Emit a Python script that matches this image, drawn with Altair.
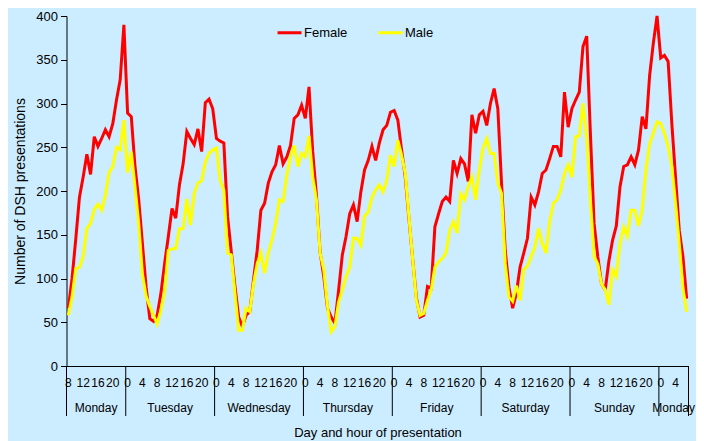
import altair as alt
import pandas as pd

FONT = "Liberation Sans"

# hourly categories: Monday 08:00 (hour 8) ... following Monday 07:00 (hour 175)
hours = list(range(8, 176))

female = [
    66, 100, 145, 193, 216, 242, 219, 262, 251, 260, 270, 262, 277, 304, 327, 390,
    289, 285, 228, 190, 140, 90, 54, 51, 58, 83, 117, 148, 180, 169, 207, 231, 268, 260, 253, 271, 245, 301, 305, 294,
    260, 257, 255, 171, 131, 91, 56, 45, 58, 62, 98, 132, 178, 186, 209, 222, 230, 252, 231, 239, 252, 283, 287, 298,
    283, 319, 245, 195, 130, 102, 66, 56, 49, 87, 127, 148, 174, 184, 165, 199, 224, 235, 251, 235, 255, 270, 275, 290,
    292, 281, 247, 216, 168, 122, 78, 56, 58, 91, 89, 159, 174, 188, 193, 188, 235, 220, 237, 231, 211, 287, 266, 287,
    291, 275, 300, 317, 294, 209, 132, 90, 66, 83, 113, 129, 146, 193, 184, 199, 220, 224, 237, 251, 251, 239, 313, 273,
    294, 304, 313, 365, 377, 266, 163, 125, 94, 87, 120, 144, 160, 205, 228, 230, 239, 230, 247, 285, 271, 332, 369, 400,
    352, 355, 348, 277, 216, 155, 125, 77,
]

male = [
    58, 79, 111, 113, 125, 157, 163, 179, 185, 178, 195, 221, 228, 250, 247, 281,
    221, 245, 205, 163, 105, 80, 68, 58, 48, 64, 85, 132, 134, 134, 157, 157, 191, 161, 197, 209, 212, 233, 243, 247,
    249, 212, 201, 129, 127, 83, 41, 41, 66, 62, 94, 117, 129, 106, 129, 144, 163, 190, 188, 218, 239, 252, 228, 243,
    239, 263, 216, 190, 129, 110, 68, 39, 45, 73, 87, 102, 113, 146, 146, 138, 171, 176, 193, 201, 207, 199, 212, 241,
    228, 258, 241, 220, 170, 122, 75, 58, 60, 75, 87, 113, 119, 123, 129, 155, 165, 152, 197, 190, 205, 216, 190, 224,
    249, 260, 243, 243, 209, 197, 117, 79, 74, 92, 75, 110, 114, 125, 136, 157, 140, 129, 165, 186, 190, 201, 220, 230,
    216, 262, 263, 300, 262, 190, 125, 117, 94, 87, 70, 110, 102, 140, 159, 148, 178, 178, 160, 178, 224, 254, 266, 279,
    277, 266, 251, 228, 186, 140, 89, 62,
]

series_names = ["Female", "Male"]
series_colors = ["#FF0000", "#FFFF00"]

day_names = ["Monday", "Tuesday", "Wednesday", "Thursday", "Friday", "Saturday", "Sunday", "Monday"]
day_starts = [8, 24, 48, 72, 96, 120, 144, 168]
day_ends = [24, 48, 72, 96, 120, 144, 168, 176]

label_hours = list(range(8, 176, 4))
y_ticks = list(range(0, 401, 50))

# ---- tables built from the arrays ----
n = len(hours)
df = pd.DataFrame({
    "hour": hours * 2,
    "count": female + male,
    "sex": [series_names[0]] * n + [series_names[1]] * n,
})
df["pos"] = df["hour"] + 0.5  # category centre

days_df = pd.DataFrame({
    "day": day_names,
    "pos": [(a + b) / 2 for a, b in zip(day_starts, day_ends)],
    "k": list(range(len(day_names))),
})
bounds_df = pd.DataFrame({"pos": sorted(set(day_starts + day_ends))})
hour_lab_df = pd.DataFrame({
    "pos": [h + 0.5 for h in label_hours],
    "lab": [str(h % 24) for h in label_hours],
})

PLOT_W, PLOT_H = 622, 350

xscale = alt.Scale(domain=[hours[0], hours[-1] + 1], nice=False, zero=False)
yscale = alt.Scale(domain=[0, 400], nice=False)

x_axis = alt.Axis(
    values=[h + 0.5 for h in label_hours],
    labels=False, ticks=False, grid=False, domain=True, domainColor="#000000",
    title="Day and hour of presentation", titleFont=FONT, titleFontSize=13,
    titleFontWeight="normal", titleColor="#000000", titleY=60,
)
y_axis = alt.Axis(
    values=y_ticks, grid=False, domain=True, domainColor="#000000",
    ticks=True, tickSize=6, tickColor="#000000",
    labelFont=FONT, labelFontSize=13, labelColor="#000000", labelPadding=3,
    title="Number of DSH presentations", titleFont=FONT, titleFontSize=14,
    titleFontWeight="normal", titleColor="#000000", titleX=-39, titleY=PLOT_H / 2,
)

legend = alt.Legend(
    title=None, orient="none", legendX=209.5, legendY=3, direction="horizontal",
    symbolType="stroke", symbolSize=576, symbolStrokeWidth=3,
    labelFont=FONT, labelFontSize=13, labelColor="#000000", labelOffset=1,
    columnPadding=24, padding=0,
)

lines = alt.Chart(df).mark_line(strokeWidth=3).encode(
    x=alt.X("pos:Q", scale=xscale, axis=x_axis),
    y=alt.Y("count:Q", scale=yscale, axis=y_axis),
    color=alt.Color("sex:N", scale=alt.Scale(domain=series_names, range=series_colors), legend=legend),
    order=alt.Order("hour:Q"),
)

separators = alt.Chart(bounds_df).mark_rule(color="#000000", strokeWidth=1).encode(
    x=alt.X("pos:Q", scale=xscale),
    y=alt.value(PLOT_H),
    y2=alt.value(PLOT_H + 50),
)

hour_labels = alt.Chart(hour_lab_df).mark_text(
    font=FONT, fontSize=12, color="#000000", align="center", baseline="middle"
).encode(
    x=alt.X("pos:Q", scale=xscale),
    y=alt.value(PLOT_H + 17),
    text="lab:N",
)

day_labels = alt.Chart(days_df).mark_text(
    font=FONT, fontSize=12, color="#000000", align="center", baseline="middle"
).encode(
    x=alt.X("pos:Q", scale=xscale),
    y=alt.value(PLOT_H + 42),
    text="day:N",
    detail="k:N",
)

chart = alt.layer(lines, separators, hour_labels, day_labels).properties(
    width=PLOT_W, height=PLOT_H,
    autosize=alt.AutoSizeParams(type="none"),
    padding={"left": 58.5, "top": 8, "right": 7.5, "bottom": 75},
).configure(
    background="#CCECFF",
).configure_view(stroke=None)

chart.save("out.html", embed_options={"renderer": "svg", "actions": False})
